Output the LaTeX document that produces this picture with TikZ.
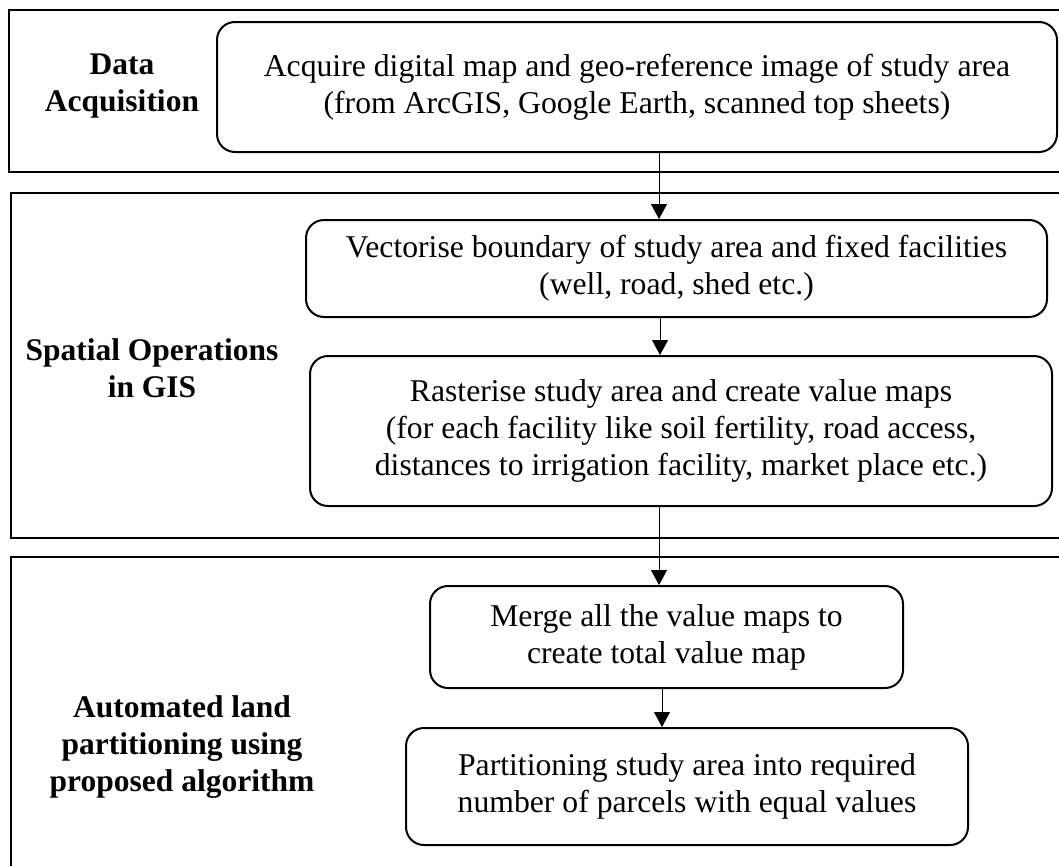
\documentclass[tikz,border=0pt]{standalone}
\usepackage{fontspec}
\setmainfont{Liberation Serif}
\usetikzlibrary{arrows.meta}
\tikzset{
  stage/.style={draw, line width=2pt},
  procbox/.style={draw, line width=2pt, rounded corners=18pt, align=center, inner sep=0pt,
    font=\fontsize{31.7}{37}\selectfont},
  stagelabel/.style={align=center, font=\fontsize{31.5}{37}\selectfont\bfseries},
  arr/.style={line width=1pt, -{Triangle[width=16pt,length=15pt]}}
}
\begin{document}
\begin{tikzpicture}[x=1pt,y=-1pt]
\clip (0,0) rectangle (1059,865);
\fill[white] (0,0) rectangle (1059,865);
% stage frames
\draw[stage] (9,10) rectangle (1080,172);
\draw[stage] (11,193) rectangle (1080,538);
\draw[stage] (11,557) rectangle (1080,900);
% labels
\node[stagelabel] (l1) at (122,86) {Data\\Acquisition};
\node[stagelabel] (l2) at (152,368) {Spatial Operations\\in GIS};
\node[stagelabel] (l3) at (182,747) {Automated land\\partitioning using\\proposed algorithm};
% process boxes
\node[procbox, minimum width=840pt, minimum height=130pt] (b1) at (637,87)
  {Acquire digital map and geo-reference image of study area\\(from ArcGIS, Google Earth, scanned top sheets)};
\node[procbox, minimum width=741pt, minimum height=97pt] (b2) at (676.5,268.5)
  {Vectorise boundary of study area and fixed facilities\\(well, road, shed etc.)};
\node[procbox, minimum width=742pt, minimum height=150pt] (b3) at (681,431)
  {Rasterise study area and create value maps\\(for each facility like soil fertility, road access,\\distances to irrigation facility, market place etc.)};
\node[procbox, minimum width=473pt, minimum height=102pt] (b4) at (666.5,637)
  {Merge all the value maps to\\create total value map};
\node[procbox, minimum width=562pt, minimum height=117pt] (b5) at (687,786.5)
  {Partitioning study area into required\\number of parcels with equal values};
% arrows
\coordinate (ax1) at (659,0);
\coordinate (ax2) at (660,0);
\coordinate (ax3) at (659,0);
\coordinate (ax4) at (662,0);
\draw[arr] (b1.south -| ax1) -- (b2.north -| ax1);
\draw[arr] (b2.south -| ax2) -- (b3.north -| ax2);
\draw[arr] (b3.south -| ax3) -- (b4.north -| ax3);
\draw[arr] (b4.south -| ax4) -- (b5.north -| ax4);
\end{tikzpicture}
\end{document}
